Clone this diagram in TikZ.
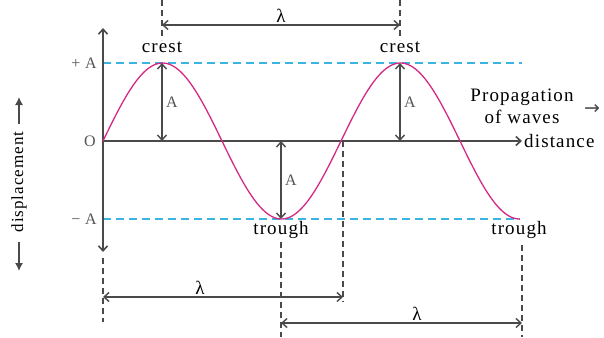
\documentclass[tikz,border=0pt]{standalone}
\usepackage{fontspec}
\setmainfont{Liberation Serif}[LetterSpace=6]
\newfontfamily\arrowfont{DejaVu Sans}
\usepackage{tikz}
\usetikzlibrary{arrows.meta,positioning,calc}
\usepackage{xcolor}
\definecolor{AxisGray}{HTML}{4A4A4A}
\definecolor{LabelGray}{HTML}{555555}
\definecolor{Sky}{HTML}{3CB4E2}
\definecolor{Magenta}{HTML}{D42A84}

\tikzset{
  axis/.style={draw=AxisGray,line width=1.6pt,-{Straight Barb[length=5pt,width=9pt]}},
  guide/.style={draw=AxisGray,line width=1.4pt,dash pattern=on 6pt off 4pt},
  level/.style={draw=Sky,line width=1.4pt,dash pattern=on 8pt off 5pt},
  span/.style={draw=AxisGray,line width=1.4pt,{Straight Barb[length=5pt,width=9pt]}-{Straight Barb[length=5pt,width=9pt]}},
  lbl/.style={font=\fontsize{19}{20}\selectfont,text=black,inner sep=1pt},
  tick/.style={font=\fontsize{16}{18}\selectfont,text=LabelGray,inner sep=1pt},
  disparrow/.style={draw=AxisGray,line width=1.3pt,-{Latex[length=8pt,width=8pt]}}
}

\begin{document}
\begin{tikzpicture}[x=1pt,y=-1pt]
  \useasboundingbox (0,0) rectangle (604,337);
  % key points
  \coordinate (O) at (103,141);
  \coordinate (ytop) at (103,28);
  \coordinate (ybot) at (103,252);
  \coordinate (xend) at (522,141);
  \foreach \n/\x/\y in {c1/162/63,c2/400/63,t1/281/219,t2/520/219,z2/343/141}{
    \coordinate (\n) at (\x,\y);
  }
  % amplitude levels
  \coordinate (pA) at (103,63);
  \coordinate (pAend) at (522,63);
  \coordinate (mA) at (103,219);
  \coordinate (mAend) at (520,219);
  \draw[level] (pA) -- (pAend);
  \draw[level] (mA) -- (mAend);

  % axes
  \draw[axis] (O) -- (ytop);
  \draw[axis] (O) -- (ybot);
  \draw[axis] (O) -- (xend);

  % wave
  \draw[Magenta,line width=1.3pt] plot[domain=0:417,samples=200] ({103+\x},{141-78*sin(1.512605*\x)});

  % amplitude arrows
  \foreach \n in {c1,c2}{
    \draw[span] (\n) -- (\n |- O);
  }
  \draw[span] (O -| t1) -- (t1);
  \node[tick,right=3pt] (ac1) at ($(c1)!0.5!(c1 |- O)$) {A};
  \node[tick,right=3pt] (ac2) at ($(c2)!0.5!(c2 |- O)$) {A};
  \node[tick,right=3pt] (at1) at ($(t1)!0.5!(O -| t1)$) {A};

  % axis labels
  \node[tick,anchor=east] (plusA) at (98,63) {+ A};
  \node[tick,anchor=east] (zero) at (97,141) {O};
  \node[tick,anchor=east] (minusA) at (98,219) {− A};
  \node[lbl,anchor=west,inner sep=0pt] (dist) at (524,141) {distance};
  \node[lbl,align=center,font=\fontsize{19}{22}\selectfont] (prop) at (522,106) {Propagation\\of waves};
  \node[text=AxisGray,inner sep=0pt,font=\arrowfont\fontsize{19}{19}\selectfont] (proparr) at (592,109) {→};
  \node[lbl,rotate=90,font=\fontsize{17}{18}\selectfont] (disp) at (19,182) {displacement};
  \coordinate (dupA) at (19,124);  \coordinate (dup) at (19,97);
  \coordinate (ddnA) at (19,242);  \coordinate (ddn) at (19,271);
  \draw[disparrow] (dupA) -- (dup);
  \draw[disparrow] (ddnA) -- (ddn);

  % crest and trough labels
  \node[lbl] (crest1) at (162,47) {crest};
  \node[lbl] (crest2) at (400,47) {crest};
  \node[lbl] (trough1) at (281,230) {trough};
  \node[lbl] (trough2) at (519,230) {trough};

  % wavelength guides
  \coordinate (g1a) at (162,0);  \coordinate (g1b) at (162,40);
  \coordinate (g2a) at (400,0);  \coordinate (g2b) at (400,40);
  \coordinate (g3a) at (103,258); \coordinate (g3b) at (103,322);
  \coordinate (g4b) at (343,302);
  \coordinate (g5a) at (281,242); \coordinate (g5b) at (281,337);
  \coordinate (g6a) at (522,245); \coordinate (g6b) at (522,337);
  \foreach \a/\b in {g1a/g1b,g2a/g2b,g3a/g3b,z2/g4b,g5a/g5b,g6a/g6b}{
    \draw[guide] (\a) -- (\b);
  }

  % wavelength arrows
  \coordinate (w1a) at (162,25);  \coordinate (w1b) at (400,25);
  \coordinate (w2a) at (103,297); \coordinate (w2b) at (343,297);
  \coordinate (w3a) at (281,323); \coordinate (w3b) at (522,323);
  \draw[span] (w1a) -- (w1b);
  \draw[span] (w2a) -- (w2b);
  \draw[span] (w3a) -- (w3b);
  \node[lbl,above=1pt] (lam1) at ($(w1a)!0.5!(w1b)$) {λ};
  \node[lbl,above=1pt] (lam2) at (200,297) {λ};
  \node[lbl,above=1pt] (lam3) at (417,323) {λ};
\end{tikzpicture}
\end{document}
